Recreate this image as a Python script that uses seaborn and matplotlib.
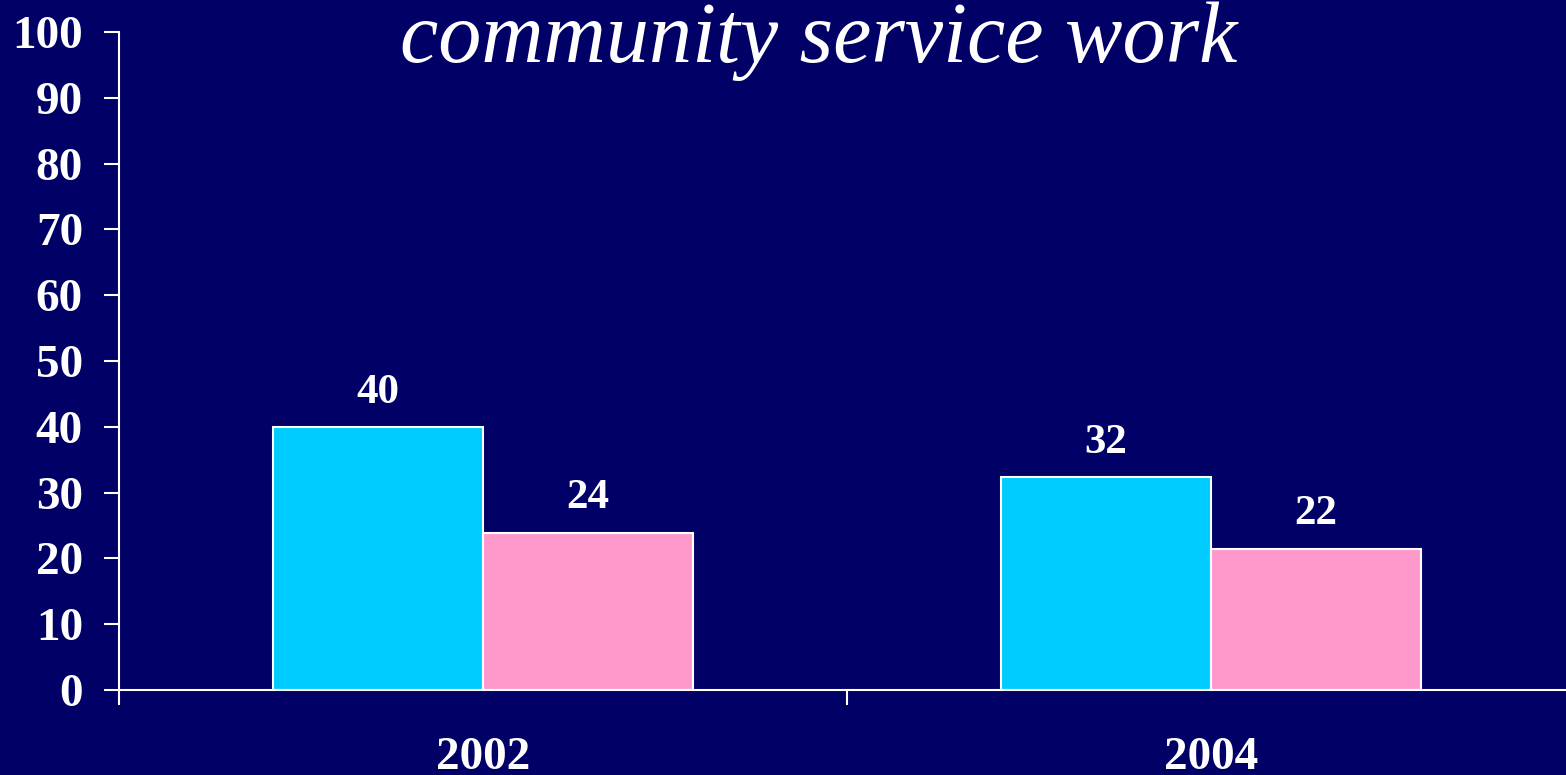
import pandas as pd
import matplotlib
matplotlib.use("Agg")
import matplotlib.pyplot as plt
import seaborn as sns

# values
years = ["2002", "2004"]
series = ["series 1", "series 2"]
heights_1 = [40.0, 32.4]
heights_2 = [23.9, 21.5]
labels_1 = ["40", "32"]
labels_2 = ["24", "22"]
yticks = list(range(0, 101, 10))

bg = "#000066"
colors = ["#00CCFF", "#FF99CC"]

sns.set_theme(style="white")
plt.rcParams["font.family"] = ["Liberation Serif", "DejaVu Serif"]

df = pd.DataFrame({
    "year": years * 2,
    "group": [series[0]] * len(years) + [series[1]] * len(years),
    "value": heights_1 + heights_2,
})

fig = plt.figure(figsize=(15.66, 7.75), dpi=100, facecolor=bg)
ax = fig.add_axes([119 / 1566, 85 / 775, 1456 / 1566, 658 / 775])
ax.set_facecolor(bg)

sns.barplot(data=df, x="year", y="value", hue="group", palette=colors,
            width=0.577, edgecolor="white", linewidth=1.5, saturation=1,
            legend=False, ax=ax)

for cont, labs in zip(ax.containers, [labels_1, labels_2]):
    ax.bar_label(cont, labels=labs, padding=11, color="white",
                 fontsize=31, fontweight="bold")

ax.set_ylim(0, 100)
ax.set_xlim(-0.5, 1.5)
ax.set_yticks(yticks)
ax.set_yticklabels([str(t) for t in yticks])
ax.set_xticks([-0.5, 0.5, 1.5], minor=True)

ax.tick_params(axis="y", which="major", direction="out", length=11, width=1.5,
               color="white", labelcolor="white", labelsize=34, pad=15, left=True)
ax.tick_params(axis="x", which="major", length=0, labelcolor="white",
               labelsize=34, pad=34)
ax.tick_params(axis="x", which="minor", direction="out", length=11, width=1.5,
               color="white", bottom=True)
for lab in ax.get_xticklabels() + ax.get_yticklabels():
    lab.set_fontweight("bold")

for side in ["top", "right"]:
    ax.spines[side].set_visible(False)
for side in ["left", "bottom"]:
    ax.spines[side].set_color("white")
    ax.spines[side].set_linewidth(1.5)

ax.set_xlabel("")
ax.set_ylabel("")

fig.text(819 / 1566, 1 - 62 / 775, "community service work", color="white",
         fontsize=62, style="italic", ha="center", va="baseline")

fig.savefig("out.png", dpi=100, facecolor=bg)
